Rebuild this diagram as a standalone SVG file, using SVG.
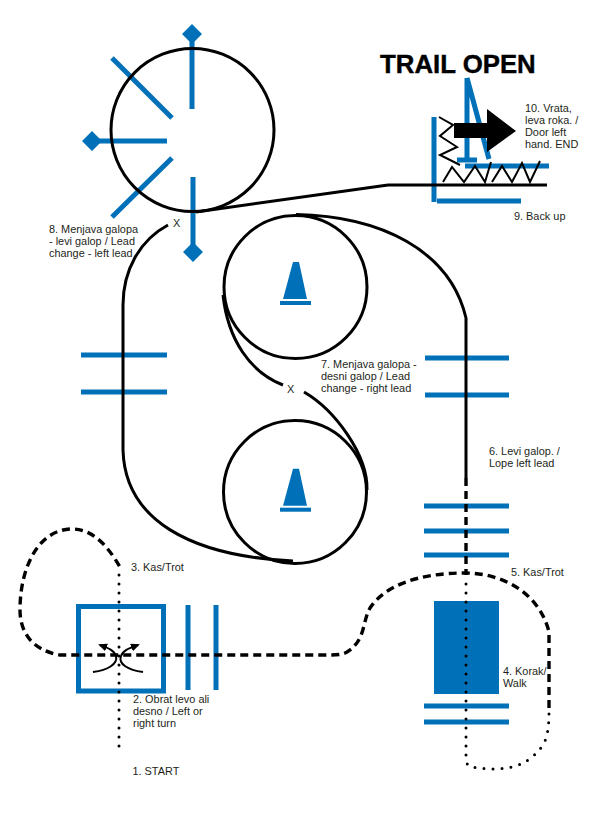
<svg xmlns="http://www.w3.org/2000/svg" width="593" height="825" viewBox="0 0 593 825">
<style>
text{font-family:"Liberation Sans",Arial,sans-serif;font-size:10.9px;fill:#231f20}
.title{font-size:25.8px;font-weight:700;fill:#000;stroke:#000;stroke-width:.4}
.b{stroke:#0070b8;stroke-width:5;fill:none}
.bf{fill:#0070b8;stroke:none}
.k{stroke:#000;stroke-width:3;fill:none}
.z{stroke:#000;stroke-width:2;fill:none}
.dash{stroke:#000;stroke-width:3.4;fill:none;stroke-dasharray:8 5}
.dot{stroke:#000;stroke-width:3;fill:none;stroke-dasharray:0 9;stroke-linecap:round}
</style>
<defs>
<marker id="ah" markerWidth="10" markerHeight="10" refX="7" refY="4" orient="auto" markerUnits="userSpaceOnUse"><path d="M0,0L9,4L0,8Z" fill="#000"/></marker>
<g id="cone"><path class="bf" d="M293,262H299L307,299H283Z"/><rect class="bf" x="280" y="301" width="31" height="4"/></g>
</defs>
<rect width="593" height="825" fill="#fff"/>
<g id="obstacle-wheel">
<path class="b" d="M192,34V109M92,141H167M193,177V252M112,58L172,118M112,217L172,158"/>
<path class="bf" d="M192,24L202,34L192,44L182,34ZM92,131L102,141L92,151L82,141ZM193,242L203,252L193,262L183,252Z"/>
</g>
<g id="obstacle-door">
<path class="b" d="M434,117V202M437,201H521M465,166H549M457,160H477M467,78V160M467,78L489,159"/>
</g>
<g id="obstacle-poles">
<path class="b" d="M81,355H167M81,392H167M425,358H509M425,395H509M424,506H509M424,531H509M424,555H509M424,706H509M424,722H509M188,605V690M216,605V690"/>
<rect class="b" x="78.500" y="606.500" width="85" height="84.500"/>
<rect class="bf" x="434" y="601" width="65" height="93"/>
</g>
<g id="cone-1"><use href="#cone"/></g>
<g id="cone-2"><use href="#cone" y="206.700"/></g>
<g id="connectors">
<circle class="k" cx="192.500" cy="130" r="81.500"/>
<circle class="k" cx="295.500" cy="287" r="71.500"/>
<circle class="k" cx="295" cy="492" r="71.500"/>
<path class="k" d="M196,212L388,185"/>
<path class="k" d="M388,185H547"/>
<path class="k" d="M296,214.500C380,216 450,250 466,318V478"/>
<path class="k" d="M168,225C140,240 123,270 123,305V450C125,520 190,556 293,561"/>
<path class="k" d="M223,295C228,340 250,372 283,385"/>
<path class="k" d="M304,392C335,410 368,455 367,490"/>
<path class="dash" d="M466,478V575"/>
<path class="dash" d="M549,708V632C540,595 505,573 465,573C420,573 385,585 370,608C362,622 366,640 347,652C342,655 335,655 325,655H60C30,650 20,630 20,610C20,565 40,529 72,529C95,529 110,550 120,567"/>
<path class="dot" d="M466,584V758C466,763 468,767 472,767C490,770 510,770 523,763C535,757 545,745 547,735C549,725 549,717 549,708"/>
<path class="dot" d="M119,575V755"/>
<path class="z" marker-end="url(#ah)" d="M93,672C108,670 118,664 116,656C114,650 108,648 100,645"/>
<path class="z" marker-end="url(#ah)" d="M143,672C128,670 118,664 121,656C123,650 130,648 138,645"/>
<path class="z" d="M439,117L453,125L440,136L457,147L440,155L460,165"/>
<path class="z" d="M443,182L452,167L464,182L475,166L485,182L491,162M492,182L502,166L512,182L522,163L530,182L540,161"/>
<path fill="#000" d="M454,123H487V109L516,131L487,152V138H454Z"/>
</g>
<g id="labels">
<text class="title" x="380" y="73">TRAIL OPEN</text>
<text x="525" y="112">10. Vrata,</text><text x="525" y="124">leva roka. /</text><text x="525" y="136">Door left</text><text x="525" y="148">hand. END</text>
<text x="514" y="220">9. Back up</text>
<text x="49" y="233">8. Menjava galopa</text><text x="49" y="245">- levi galop / Lead</text><text x="49" y="257">change - left lead</text>
<text x="173" y="227">X</text>
<text x="287" y="393">X</text>
<text x="321" y="368">7. Menjava galopa -</text><text x="321" y="380">desni galop / Lead</text><text x="321" y="392">change - right lead</text>
<text x="489" y="455">6. Levi galop. /</text><text x="489" y="467">Lope left lead</text>
<text x="511" y="576">5. Kas/Trot</text>
<text x="503" y="675">4. Korak/</text><text x="503" y="687">Walk</text>
<text x="131" y="571">3. Kas/Trot</text>
<text x="133" y="703">2. Obrat levo ali</text><text x="133" y="715">desno / Left or</text><text x="133" y="727">right turn</text>
<text x="132.500" y="775">1. START</text>
</g>
</svg>
